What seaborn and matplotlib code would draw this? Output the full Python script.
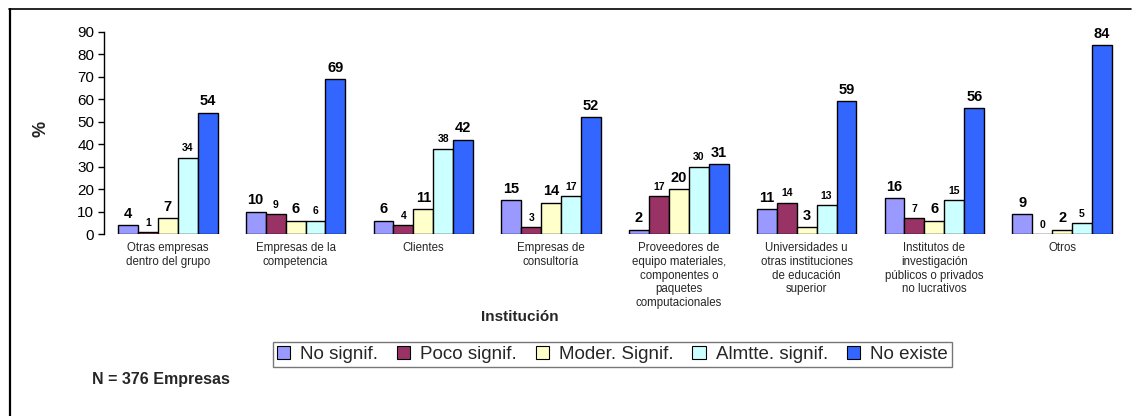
import matplotlib
matplotlib.use("Agg")
import matplotlib.pyplot as plt
from matplotlib.lines import Line2D
import seaborn as sns
import pandas as pd

# Institutions (x categories) and their multi-line tick labels
categories = [
    "Otras empresas\ndentro del grupo",
    "Empresas de la\ncompetencia",
    "Clientes",
    "Empresas de\nconsultoría",
    "Proveedores de\nequipo materiales,\ncomponentes o\npaquetes\ncomputacionales",
    "Universidades u\notras instituciones\nde educación\nsuperior",
    "Institutos de\ninvestigación\npúblicos o privados\nno lucrativos",
    "Otros",
]

series = ["No signif.", "Poco signif.", "Moder. Signif.", "Almtte. signif.", "No existe"]

no_signif = [4, 10, 6, 15, 2, 11, 16, 9]
poco_signif = [1, 9, 4, 3, 17, 14, 7, 0]
moder_signif = [7, 6, 11, 14, 20, 3, 6, 2]
almtte_signif = [34, 6, 38, 17, 30, 13, 15, 5]
no_existe = [54, 69, 42, 52, 31, 59, 56, 84]

values = [no_signif, poco_signif, moder_signif, almtte_signif, no_existe]
colors = ["#9999FF", "#993366", "#FFFFCC", "#CCFFFF", "#3366FF"]
# label font size per series
label_sizes = [10.5, 7.5, 10.5, 7.5, 10.5]

rows = []
for s, vals in zip(series, values):
    for c, v in zip(categories, vals):
        rows.append({"Institución": c, "Serie": s, "Valor": v})
df = pd.DataFrame(rows)

sns.set_theme(style="white")
plt.rcParams["font.family"] = ["Liberation Sans", "DejaVu Sans"]

fig = plt.figure(figsize=(11.36, 4.16), dpi=100)
ax = fig.add_axes([0.0915, 0.4375, 0.8997, 0.4863])

sns.barplot(data=df, x="Institución", y="Valor", hue="Serie",
            order=categories, hue_order=series, palette=colors,
            width=0.78, gap=0, edgecolor="black", linewidth=1.0,
            saturation=1, errorbar=None, ax=ax, legend=False)

# value labels above each bar
for cont, size in zip(ax.containers, label_sizes):
    ax.bar_label(cont, labels=[f"{int(round(b.get_height()))}" for b in cont],
                 padding=3, fontsize=size, fontweight="bold", color="black")

ax.set_ylim(0, 90)
ax.set_xlim(-0.5, len(categories) - 0.5)
ax.set_yticks(range(0, 91, 10))
ax.tick_params(axis="y", labelsize=11, length=4, width=1, direction="out",
               left=True, pad=3, colors="black")
ax.tick_params(axis="x", labelsize=8.3, length=0, pad=6)
for t in ax.get_xticklabels():
    t.set_linespacing(1.18)
for sp in ["top", "right", "bottom"]:
    ax.spines[sp].set_visible(False)
ax.spines["left"].set_color("black")
ax.spines["left"].set_linewidth(1)
ax.set_xlabel("")
ax.set_ylabel("")

fig.text(0.036, 0.69, "%", rotation=90, fontsize=13, fontweight="bold",
         ha="center", va="center")
fig.text(0.458, 0.237, "Institución", fontsize=11, fontweight="bold",
         ha="center", va="center")

handles = [plt.Rectangle((0, 0), 1, 1, facecolor=c, edgecolor="black", linewidth=0.8)
           for c in colors]
leg = fig.legend(handles, series, loc="center", bbox_to_anchor=(0.539, 0.148),
                 ncol=5, frameon=True, fancybox=False, handlelength=0.7,
                 handleheight=0.7, handletextpad=0.55, columnspacing=1.0,
                 borderpad=0.2, borderaxespad=0,
                 prop={"family": ["Liberation Sans", "DejaVu Sans"], "size": 13.5})
leg.get_frame().set_edgecolor("#555555")
leg.get_frame().set_linewidth(1)

fig.text(0.081, 0.087, "N = 376 Empresas", fontsize=11.5, fontweight="bold",
         ha="left", va="center")

# outer frame (top and left edges)
fig.add_artist(Line2D([0.008, 0.996], [0.978, 0.978], color="black", lw=1.2,
                      transform=fig.transFigure))
fig.add_artist(Line2D([0.0085, 0.0085], [0.978, 0.0], color="black", lw=1.6,
                      transform=fig.transFigure))

fig.savefig("out.png", dpi=100)
